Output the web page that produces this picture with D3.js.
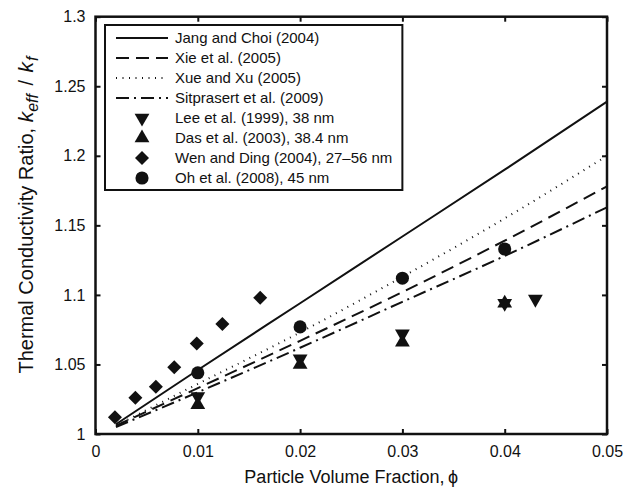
<!DOCTYPE html>
<html><head><meta charset="utf-8">
<script src="https://cdn.jsdelivr.net/npm/d3@7"></script>
<style>body{margin:0;background:#fff}svg{display:block}text{font-family:"Liberation Sans",Arial,sans-serif;fill:#111}</style>
</head><body><svg id="c" width="628" height="492"></svg>
<script>
// Model curves (volume fraction -> conductivity ratio)
const modelX = [0.002, 0.01, 0.02, 0.03, 0.04, 0.05];
const jangChoi = [1.007, 1.046, 1.094, 1.142, 1.190, 1.239];
const xie = [1.006, 1.033, 1.067, 1.102, 1.139, 1.178];
const xueXu = [1.006, 1.036, 1.073, 1.113, 1.155, 1.200];
const sitprasert = [1.005, 1.030, 1.062, 1.095, 1.128, 1.163];
// Experimental data
const leeX = [0.01, 0.02, 0.03, 0.04, 0.043];
const leeY = [1.027, 1.054, 1.072, 1.094, 1.097];
const dasX = [0.01, 0.02, 0.03, 0.04];
const dasY = [1.021, 1.050, 1.066, 1.094];
const wenX = [0.0019, 0.0039, 0.0059, 0.0077, 0.0099, 0.0124, 0.0161];
const wenY = [1.012, 1.026, 1.034, 1.048, 1.065, 1.079, 1.098];
const ohX = [0.01, 0.02, 0.03, 0.04];
const ohY = [1.044, 1.077, 1.112, 1.133];
const xTicks = [0, 0.01, 0.02, 0.03, 0.04, 0.05];
const xTickLabels = ["0", "0.01", "0.02", "0.03", "0.04", "0.05"];
const yTicks = [1, 1.05, 1.1, 1.15, 1.2, 1.25, 1.3];
const yTickLabels = ["1", "1.05", "1.1", "1.15", "1.2", "1.25", "1.3"];
const legendLabels = ["Jang and Choi (2004)", "Xie et al. (2005)", "Xue and Xu (2005)", "Sitprasert et al. (2009)",
  "Lee et al. (1999), 38 nm", "Das et al. (2003), 38.4 nm", "Wen and Ding (2004), 27\u201356 nm", "Oh et al. (2008), 45 nm"];

const L = 95.5, R = 607, T = 16.7, B = 434;
const svg = d3.select("#c");
const x = d3.scaleLinear().domain([0, 0.05]).range([L, R]);
const y = d3.scaleLinear().domain([1, 1.3]).range([B, T]);
const FS = 16, LFS = 15;

// axes with inward ticks
const tl = 5;
svg.append("g").attr("transform", `translate(0,${B})`)
  .call(d3.axisBottom(x).tickValues(xTicks).tickFormat((d, i) => xTickLabels[i]).tickSizeInner(-tl).tickSizeOuter(0).tickPadding(12))
  .call(g => { g.select(".domain").remove(); g.selectAll("text").attr("font-size", FS); });
svg.append("g").attr("transform", `translate(0,${T})`)
  .call(d3.axisTop(x).tickValues(xTicks).tickFormat("").tickSizeInner(-tl).tickSizeOuter(0))
  .call(g => g.select(".domain").remove());
svg.append("g").attr("transform", `translate(${L},0)`)
  .call(d3.axisLeft(y).tickValues(yTicks).tickFormat((d, i) => yTickLabels[i]).tickSizeInner(-tl).tickSizeOuter(0).tickPadding(10))
  .call(g => { g.select(".domain").remove(); g.selectAll("text").attr("font-size", FS); });
svg.append("g").attr("transform", `translate(${R},0)`)
  .call(d3.axisRight(y).tickValues(yTicks).tickFormat("").tickSizeInner(-tl).tickSizeOuter(0))
  .call(g => g.select(".domain").remove());
svg.selectAll(".tick line").attr("stroke", "#111").attr("stroke-width", 2);

// frame
svg.append("rect").attr("x", L).attr("y", T).attr("width", R - L).attr("height", B - T)
  .attr("fill", "none").attr("stroke", "#111").attr("stroke-width", 2.5);

const line = d3.line().x(d => x(d[0])).y(d => y(d[1])).curve(d3.curveMonotoneX);
const models = [
  {v: jangChoi, dash: null},
  {v: xie, dash: "13,7"},
  {v: xueXu, dash: "1,5.5"},
  {v: sitprasert, dash: "13,5,2,5"}
];
models.forEach(m => {
  svg.append("path").datum(modelX.map((d, i) => [d, m.v[i]])).attr("d", line)
    .attr("fill", "none").attr("stroke", "#111").attr("stroke-width", 2)
    .attr("stroke-dasharray", m.dash);
});

const sym = {
  down: d3.symbol().type(d3.symbolTriangle).size(95),
  up: d3.symbol().type(d3.symbolTriangle).size(95),
  diamond: d3.symbol().type(d3.symbolDiamond2).size(125),
  circle: d3.symbol().type(d3.symbolCircle).size(135)
};
function drawPts(xs, ys, kind) {
  svg.append("g").selectAll("path").data(xs.map((d, i) => [d, ys[i]])).join("path")
    .attr("d", sym[kind]).attr("fill", "#111")
    .attr("transform", d => `translate(${x(d[0])},${y(d[1])})` + (kind === "down" ? " rotate(180)" : ""));
}
drawPts(leeX, leeY, "down");
drawPts(dasX, dasY, "up");
drawPts(wenX, wenY, "diamond");
drawPts(ohX, ohY, "circle");

// legend
const lg = svg.append("g");
const rowY0 = 38, rowH = 20, lx0 = 116, lx1 = 168, tx = 175;
const kinds = ["down", "up", "diamond", "circle"];
legendLabels.forEach((lab, i) => {
  const yy = rowY0 + i * rowH;
  if (i < 4) {
    lg.append("line").attr("x1", lx0).attr("x2", lx1).attr("y1", yy).attr("y2", yy)
      .attr("stroke", "#111").attr("stroke-width", 2).attr("stroke-dasharray", models[i].dash);
  } else {
    lg.append("path").attr("d", sym[kinds[i - 4]]).attr("fill", "#111")
      .attr("transform", `translate(${(lx0 + lx1) / 2},${yy})` + (kinds[i - 4] === "down" ? " rotate(180)" : ""));
  }
  lg.append("text").attr("x", tx).attr("y", yy + 5).attr("font-size", LFS).text(lab);
});
const tw = d3.max(lg.selectAll("text").nodes(), n => n.getComputedTextLength());
lg.insert("rect", ":first-child").attr("x", 105).attr("y", 25).attr("width", tx + tw + 10 - 105).attr("height", 165)
  .attr("fill", "#fff").attr("stroke", "#111").attr("stroke-width", 2);

// axis titles
svg.append("text").attr("x", (L + R) / 2).attr("y", 483).attr("text-anchor", "middle").attr("font-size", 18)
  .text("Particle Volume Fraction,\u2009\u03d5");
const yt = svg.append("text").attr("transform", `translate(33,215) rotate(-90)`)
  .attr("text-anchor", "middle").attr("font-size", 20);
yt.append("tspan").text("Thermal Conductivity Ratio, ");
yt.append("tspan").attr("font-style", "italic").attr("font-size", 21).text("k");
yt.append("tspan").attr("font-style", "italic").attr("font-size", 16).attr("dy", 5).text("eff");
yt.append("tspan").attr("dy", -5).attr("dx", 3).text(" / ");
yt.append("tspan").attr("font-style", "italic").attr("font-size", 21).attr("dx", 2).text("k");
yt.append("tspan").attr("font-style", "italic").attr("font-size", 16).attr("dy", 5).attr("dx", 1).text("f");
</script></body></html>
